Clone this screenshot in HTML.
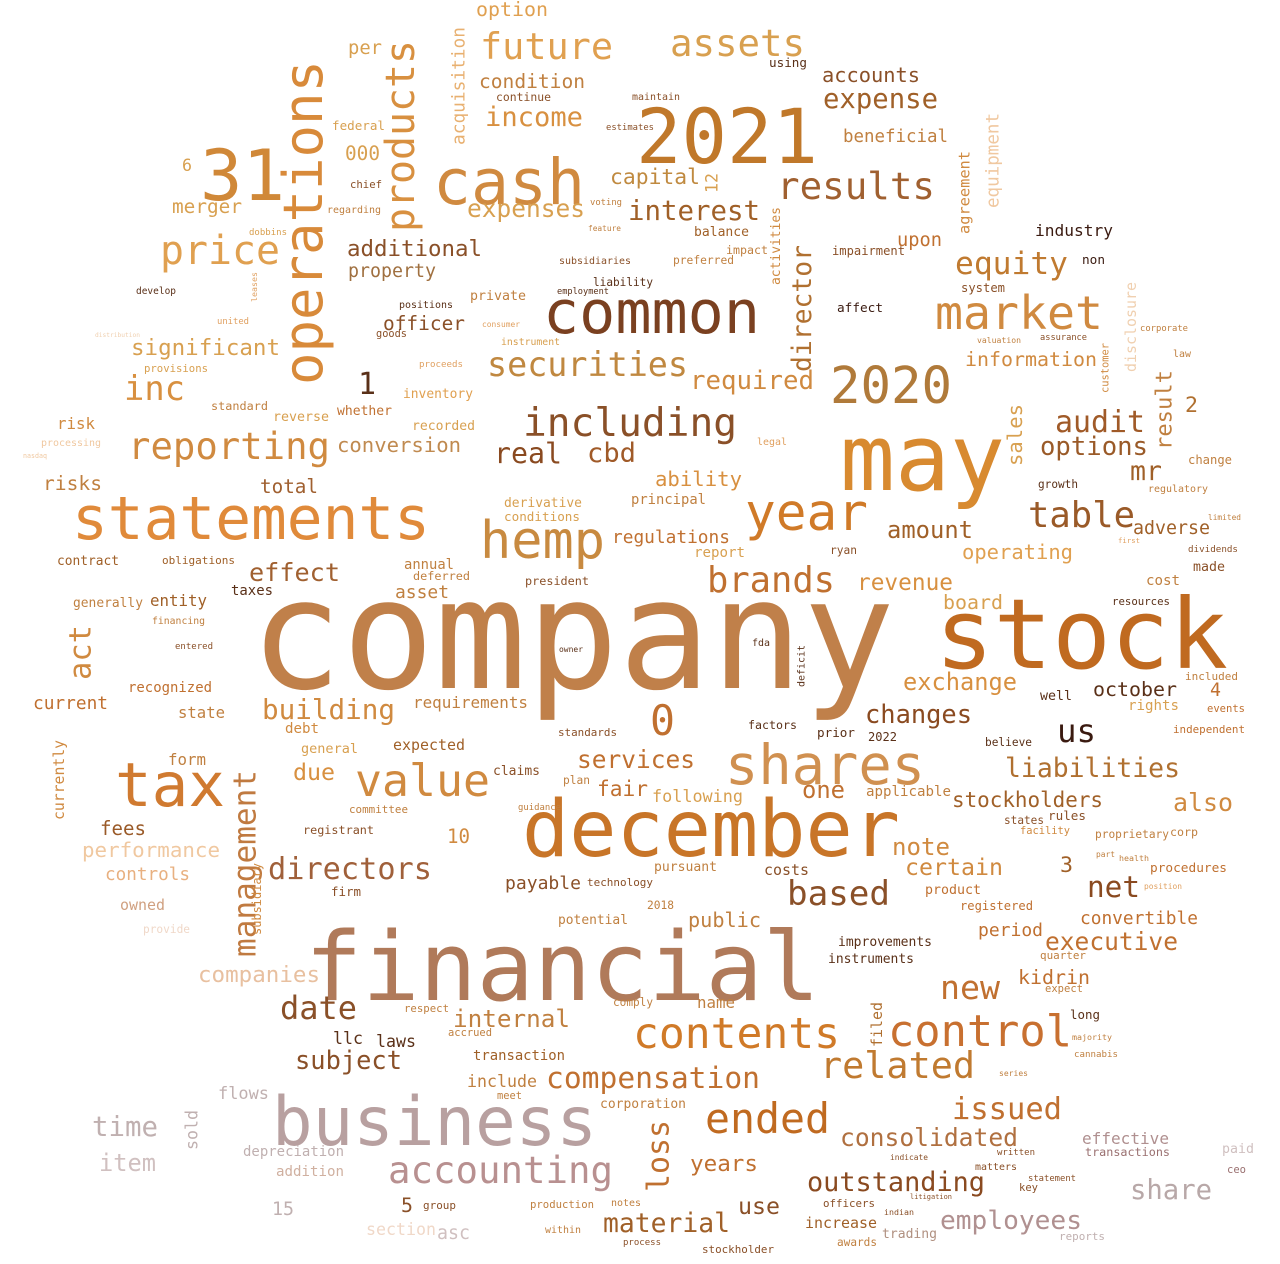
<!DOCTYPE html>
<html><head><meta charset="utf-8"><style>
html,body{margin:0;padding:0;background:#fff;}
svg{display:block;}
text{font-family:"DejaVu Sans Mono","Liberation Mono",monospace;}
</style></head><body>
<svg id="cloud" width="1280" height="1264" viewBox="0 0 1280 1264" xmlns="http://www.w3.org/2000/svg"></svg>
<script>
// [word, x, baselineY, width, color, vertical]
const words = [
["company",250,688,645,"#c0804a",0],
["stock",935,668,293,"#c06a20",0],
["financial",305,1000,515,"#b07a5a",0],
["december",522,856,378,"#c87528",0],
["may",840,490,165,"#d88a30",0],
["business",272,1145,325,"#b8a0a0",0],
["common",543,333,217,"#7a4020",0],
["cash",433,204,152,"#d08a40",0],
["2021",636,163,182,"#c0782a",0],
["31",200,200,85,"#d08838",0],
["statements",72,539,358,"#e08a3a",0],
["tax",115,806,110,"#d07a30",0],
["shares",725,784,200,"#d09050",0],
["operations",330,385,325,"#d88a3a",1],
["hemp",480,558,125,"#c88a40",0],
["value",355,796,135,"#d08a40",0],
["year",745,530,123,"#d07a28",0],
["2020",830,403,122,"#b07a3a",0],
["control",888,1046,184,"#c87030",0],
["contents",633,1048,207,"#d07a28",0],
["accounting",388,1183,225,"#b89090",0],
["ended",705,1133,125,"#c06a20",0],
["related",820,1078,155,"#c07a30",0],
["market",935,329,168,"#d08a40",0],
["results",777,199,158,"#a06030",0],
["reporting",128,459,202,"#d08a40",0],
["price",160,264,120,"#e0a050",0],
["future",480,59,133,"#e0a050",0],
["assets",670,56,135,"#d8a050",0],
["including",523,436,214,"#8a5028",0],
["securities",487,376,201,"#c08840",0],
["products",420,232,192,"#d89040",1],
["directors",268,879,164,"#a0603a",0],
["management",260,957,187,"#c07a40",1],
["liabilities",1005,777,175,"#b07030",0],
["brands",707,592,128,"#c07030",0],
["table",1028,527,107,"#9a5a28",0],
["audit",1055,432,90,"#a05a28",0],
["options",1040,455,108,"#9a5a28",0],
["equity",955,274,113,"#c07a30",0],
["expense",823,108,115,"#a06028",0],
["accounts",822,82,98,"#8a5028",0],
["beneficial",843,142,105,"#c08040",0],
["interest",628,220,132,"#a06028",0],
["capital",610,184,90,"#c08a40",0],
["expenses",467,217,118,"#d8a050",0],
["income",485,126,98,"#d89040",0],
["condition",479,88,106,"#c08040",0],
["additional",347,256,135,"#8a5028",0],
["property",348,277,88,"#a07040",0],
["officer",383,330,82,"#8a5028",0],
["significant",131,355,149,"#d8a050",0],
["inc",124,400,61,"#d89040",0],
["1",358,394,18,"#5a3018",0],
["conversion",337,452,124,"#c08a50",0],
["real",494,463,68,"#8a4a20",0],
["cbd",587,462,49,"#a05a28",0],
["ability",655,486,87,"#d89040",0],
["required",690,389,124,"#d08a40",0],
["director",815,372,127,"#b07030",1],
["information",965,366,132,"#d08a40",0],
["result",1175,450,80,"#c08040",1],
["sales",1025,466,62,"#d8a050",1],
["mr",1130,480,32,"#a06028",0],
["2",1185,412,13,"#b07030",0],
["adverse",1133,534,77,"#a06028",0],
["operating",962,559,111,"#e0a050",0],
["amount",887,538,86,"#a06028",0],
["revenue",857,590,96,"#d89040",0],
["board",943,609,60,"#d8a050",0],
["exchange",903,690,114,"#d89040",0],
["october",1093,696,84,"#5a3018",0],
["changes",865,723,107,"#8a4a20",0],
["us",1057,742,39,"#3a1a10",0],
["stockholders",952,807,151,"#a06028",0],
["also",1173,811,60,"#d08a40",0],
["note",892,855,58,"#d08a40",0],
["certain",905,875,98,"#d08a40",0],
["net",1087,897,53,"#8a4a20",0],
["based",787,905,103,"#8a5028",0],
["period",978,936,65,"#c07030",0],
["executive",1045,950,133,"#c07030",0],
["convertible",1080,924,118,"#c07030",0],
["kidrin",1018,984,72,"#c07030",0],
["new",940,999,60,"#c07030",0],
["issued",952,1119,110,"#c07030",0],
["consolidated",840,1146,178,"#b07040",0],
["outstanding",807,1191,178,"#8a4a20",0],
["employees",940,1229,142,"#b09090",0],
["share",1130,1199,82,"#b8a8a8",0],
["years",690,1171,68,"#c07030",0],
["material",603,1232,127,"#a06028",0],
["use",738,1214,42,"#8a5028",0],
["loss",673,1192,72,"#c07030",1],
["compensation",546,1088,214,"#c07030",0],
["internal",453,1027,117,"#c08040",0],
["include",467,1087,70,"#c08040",0],
["subject",295,1069,107,"#8a5028",0],
["date",280,1019,77,"#8a5028",0],
["companies",198,982,122,"#e8c0a0",0],
["time",92,1136,66,"#c0b0b0",0],
["item",99,1171,57,"#d0c0c0",0],
["performance",82,857,138,"#f0c8a0",0],
["fees",100,835,46,"#9a5a28",0],
["controls",105,880,85,"#e8b080",0],
["building",262,719,133,"#d08a40",0],
["effect",249,581,91,"#a06030",0],
["total",260,493,58,"#a06030",0],
["risks",43,490,59,"#c08040",0],
["act",95,680,55,"#d08a40",1],
["0",650,735,25,"#c07030",0],
["services",577,768,118,"#c07030",0],
["fair",597,796,51,"#c07030",0],
["one",802,798,43,"#c07030",0],
["due",293,780,42,"#d89040",0],
["10",447,843,23,"#d08a40",0],
["3",1060,872,13,"#a06028",0],
["regulations",612,543,118,"#c07030",0],
["entity",150,606,57,"#a06028",0],
["current",33,709,75,"#c07030",0],
["recognized",128,692,84,"#c07030",0],
["federal",332,130,53,"#d8a050",0],
["000",345,160,35,"#d8a050",0],
["per",348,54,34,"#d8a050",0],
["merger",172,213,70,"#d8a050",0],
["option",476,16,72,"#e0a050",0],
["acquisition",467,145,118,"#e8b070",1],
["principal",631,504,75,"#c08040",0],
["derivative",504,507,78,"#d8a050",0],
["conditions",504,521,76,"#d8a050",0],
["annual",404,569,50,"#c08040",0],
["deferred",413,580,57,"#c08040",0],
["asset",395,598,54,"#c08040",0],
["taxes",231,595,42,"#5a3018",0],
["obligations",162,564,73,"#a06028",0],
["contract",57,565,62,"#a06028",0],
["generally",73,607,70,"#c08040",0],
["state",178,718,47,"#c08040",0],
["form",168,765,38,"#c08040",0],
["general",301,753,57,"#d8a050",0],
["debt",285,733,34,"#d08a40",0],
["requirements",413,708,115,"#c08040",0],
["expected",393,750,72,"#a06028",0],
["claims",493,775,47,"#8a5028",0],
["following",652,802,91,"#d8a050",0],
["applicable",866,796,85,"#c08040",0],
["prior",817,737,38,"#5a3018",0],
["2022",868,741,29,"#5a3018",0],
["factors",748,729,49,"#5a3018",0],
["standards",558,736,59,"#8a5028",0],
["payable",505,889,76,"#8a5028",0],
["pursuant",654,871,63,"#c08040",0],
["costs",764,875,45,"#8a5028",0],
["public",688,927,73,"#c08040",0],
["potential",558,924,70,"#c08040",0],
["improvements",838,946,94,"#5a3018",0],
["instruments",828,963,86,"#5a3018",0],
["filed",884,1047,45,"#b07030",1],
["name",697,1008,38,"#c08040",0],
["laws",376,1047,40,"#5a3018",0],
["llc",333,1044,30,"#5a3018",0],
["transaction",473,1060,92,"#a06028",0],
["corporation",600,1108,86,"#c08040",0],
["increase",805,1228,72,"#a06028",0],
["trading",882,1238,55,"#b09080",0],
["effective",1082,1144,87,"#b09090",0],
["transactions",1085,1156,85,"#9a7070",0],
["long",1070,1019,30,"#5a3018",0],
["4",1210,696,11,"#c07030",0],
["rights",1128,710,51,"#d8a050",0],
["events",1207,712,38,"#c07030",0],
["independent",1173,733,72,"#c07030",0],
["industry",1035,236,78,"#3a1a10",0],
["non",1082,264,23,"#3a1a10",0],
["upon",897,246,45,"#c07030",0],
["impairment",832,255,73,"#8a5028",0],
["affect",837,312,46,"#3a1a10",0],
["disclosure",1138,372,90,"#f0d0b0",1],
["agreement",972,234,83,"#d08a40",1],
["equipment",1001,208,95,"#f0c8a0",1],
["balance",694,236,55,"#a06028",0],
["preferred",673,264,61,"#c08040",0],
["activities",782,285,78,"#d08a40",1],
["6",182,171,10,"#d8a050",0],
["5",401,1212,12,"#8a5028",0],
["15",272,1215,22,"#c0b0b0",0],
["section",366,1235,70,"#f0d8c8",0],
["asc",437,1239,33,"#d0c0c0",0],
["depreciation",243,1156,101,"#c0b0b0",0],
["addition",276,1176,68,"#d0b0a0",0],
["flows",218,1099,51,"#c0b0b0",0],
["sold",200,1150,40,"#c0b0b0",1],
["owned",120,910,45,"#d0a080",0],
["provide",143,933,47,"#f0d8c8",0],
["currently",66,820,80,"#d08a40",1],
["risk",57,429,38,"#d08a40",0],
["whether",337,415,55,"#c07030",0],
["reverse",273,421,56,"#d8a050",0],
["recorded",412,430,63,"#d8a050",0],
["inventory",403,398,70,"#e0a050",0],
["private",470,300,56,"#c08040",0],
["positions",399,308,54,"#5a3018",0],
["subsidiaries",559,264,72,"#8a5028",0],
["liability",593,286,60,"#5a3018",0],
["instrument",501,345,59,"#d8a050",0],
["president",525,585,64,"#8a5028",0],
["report",694,557,51,"#d8a050",0],
["ryan",830,554,27,"#8a5028",0],
["made",1193,571,32,"#8a5028",0],
["dividends",1188,552,50,"#8a5028",0],
["cost",1146,585,34,"#c08040",0],
["resources",1112,605,58,"#5a3018",0],
["included",1185,680,53,"#c08040",0],
["growth",1038,488,40,"#5a3018",0],
["change",1188,464,44,"#c08040",0],
["regulatory",1148,492,60,"#c08040",0],
["rules",1048,820,38,"#8a5028",0],
["states",1004,824,40,"#8a5028",0],
["facility",1020,834,50,"#d08a40",0],
["proprietary",1095,838,74,"#c08040",0],
["corp",1170,836,28,"#c08040",0],
["procedures",1150,872,77,"#c07030",0],
["registered",960,910,73,"#c07030",0],
["product",925,894,56,"#c07030",0],
["quarter",1040,959,46,"#c08040",0],
["expect",1045,992,38,"#c08040",0],
["majority",1072,1040,40,"#c08040",0],
["cannabis",1074,1057,44,"#c08040",0],
["series",999,1076,29,"#c08040",0],
["believe",985,746,47,"#5a3018",0],
["well",1040,700,32,"#5a3018",0],
["12",720,193,20,"#d8a050",1],
["chief",350,188,32,"#8a5028",0],
["regarding",327,213,54,"#c08040",0],
["dobbins",249,235,38,"#d8a050",0],
["develop",136,294,40,"#5a3018",0],
["provisions",144,372,64,"#d8a050",0],
["standard",211,410,57,"#c08040",0],
["entered",175,649,38,"#8a5028",0],
["financing",152,624,53,"#c08040",0],
["registrant",303,834,71,"#8a5028",0],
["committee",349,813,59,"#c08040",0],
["firm",331,896,30,"#8a5028",0],
["technology",587,886,66,"#8a5028",0],
["2018",647,909,27,"#c08040",0],
["respect",404,1012,45,"#c08040",0],
["accrued",448,1036,44,"#c08040",0],
["plan",563,784,27,"#c08040",0],
["guidance",518,810,43,"#c08040",0],
["deficit",806,687,42,"#5a3018",1],
["owner",559,652,24,"#5a3018",0],
["fda",752,646,18,"#5a3018",0],
["production",530,1208,64,"#c08040",0],
["notes",611,1206,30,"#c08040",0],
["group",423,1209,33,"#8a5028",0],
["within",545,1233,36,"#c08040",0],
["process",623,1245,38,"#8a5028",0],
["stockholder",702,1253,72,"#8a5028",0],
["awards",837,1246,40,"#c08040",0],
["officers",823,1207,52,"#8a5028",0],
["meet",497,1099,25,"#c08040",0],
["comply",613,1006,40,"#c08040",0],
["using",769,67,38,"#5a3018",0],
["continue",496,101,55,"#8a5028",0],
["estimates",606,130,48,"#8a5028",0],
["maintain",632,100,48,"#8a5028",0],
["feature",588,231,33,"#c08040",0],
["voting",590,205,32,"#c08040",0],
["impact",726,254,42,"#c08040",0],
["employment",557,294,52,"#5a3018",0],
["valuation",977,343,44,"#c08040",0],
["assurance",1040,340,47,"#8a5028",0],
["system",961,292,44,"#8a5028",0],
["corporate",1140,331,48,"#c08040",0],
["law",1173,357,18,"#c08040",0],
["customer",1110,393,50,"#d08a40",1],
["ceo",1227,1173,19,"#9a7070",0],
["paid",1222,1153,32,"#d0c0c0",0],
["reports",1059,1240,46,"#c0b0b0",0],
["key",1019,1191,19,"#8a5028",0],
["statement",1028,1181,48,"#8a5028",0],
["written",997,1155,38,"#8a5028",0],
["matters",975,1170,42,"#8a5028",0],
["indian",884,1215,30,"#8a5028",0],
["litigation",910,1199,42,"#8a5028",0],
["indicate",890,1160,38,"#8a5028",0],
["subsidiary",263,935,72,"#d08a40",1],
["distribution",95,337,45,"#f0d0b0",0],
["processing",41,446,60,"#f0c8a0",0],
["nasdaq",23,458,24,"#f0c8a0",0],
["united",217,324,32,"#e0a060",0],
["leases",258,302,30,"#e0a060",1],
["goods",376,337,31,"#8a5028",0],
["consumer",482,327,38,"#e0a060",0],
["proceeds",419,367,44,"#e0a060",0],
["legal",757,445,30,"#e0a060",0],
["limited",1208,520,33,"#c08040",0],
["first",1118,543,22,"#e0a060",0],
["health",1119,861,30,"#c08040",0],
["part",1096,857,19,"#c08040",0],
["position",1144,889,38,"#e0a060",0]
];
const svg = document.getElementById('cloud');
const NS = 'http://www.w3.org/2000/svg';
for (const w of words) {
  const [txt, x, y, width, color, vert] = w;
  const fs = width / (txt.length * 0.602);
  const t = document.createElementNS(NS, 'text');
  t.textContent = txt;
  t.setAttribute('font-size', fs.toFixed(1));
  t.setAttribute('fill', color);
  t.setAttribute('textLength', width);
  t.setAttribute('lengthAdjust', 'spacingAndGlyphs');
  if (vert) {
    const bx = x - fs * 0.15;
    t.setAttribute('x', 0);
    t.setAttribute('y', 0);
    t.setAttribute('transform', 'translate(' + bx + ',' + y + ') rotate(-90)');
  } else {
    t.setAttribute('x', x);
    t.setAttribute('y', y);
  }
  
  
  svg.appendChild(t);
}
</script>
</body></html>
